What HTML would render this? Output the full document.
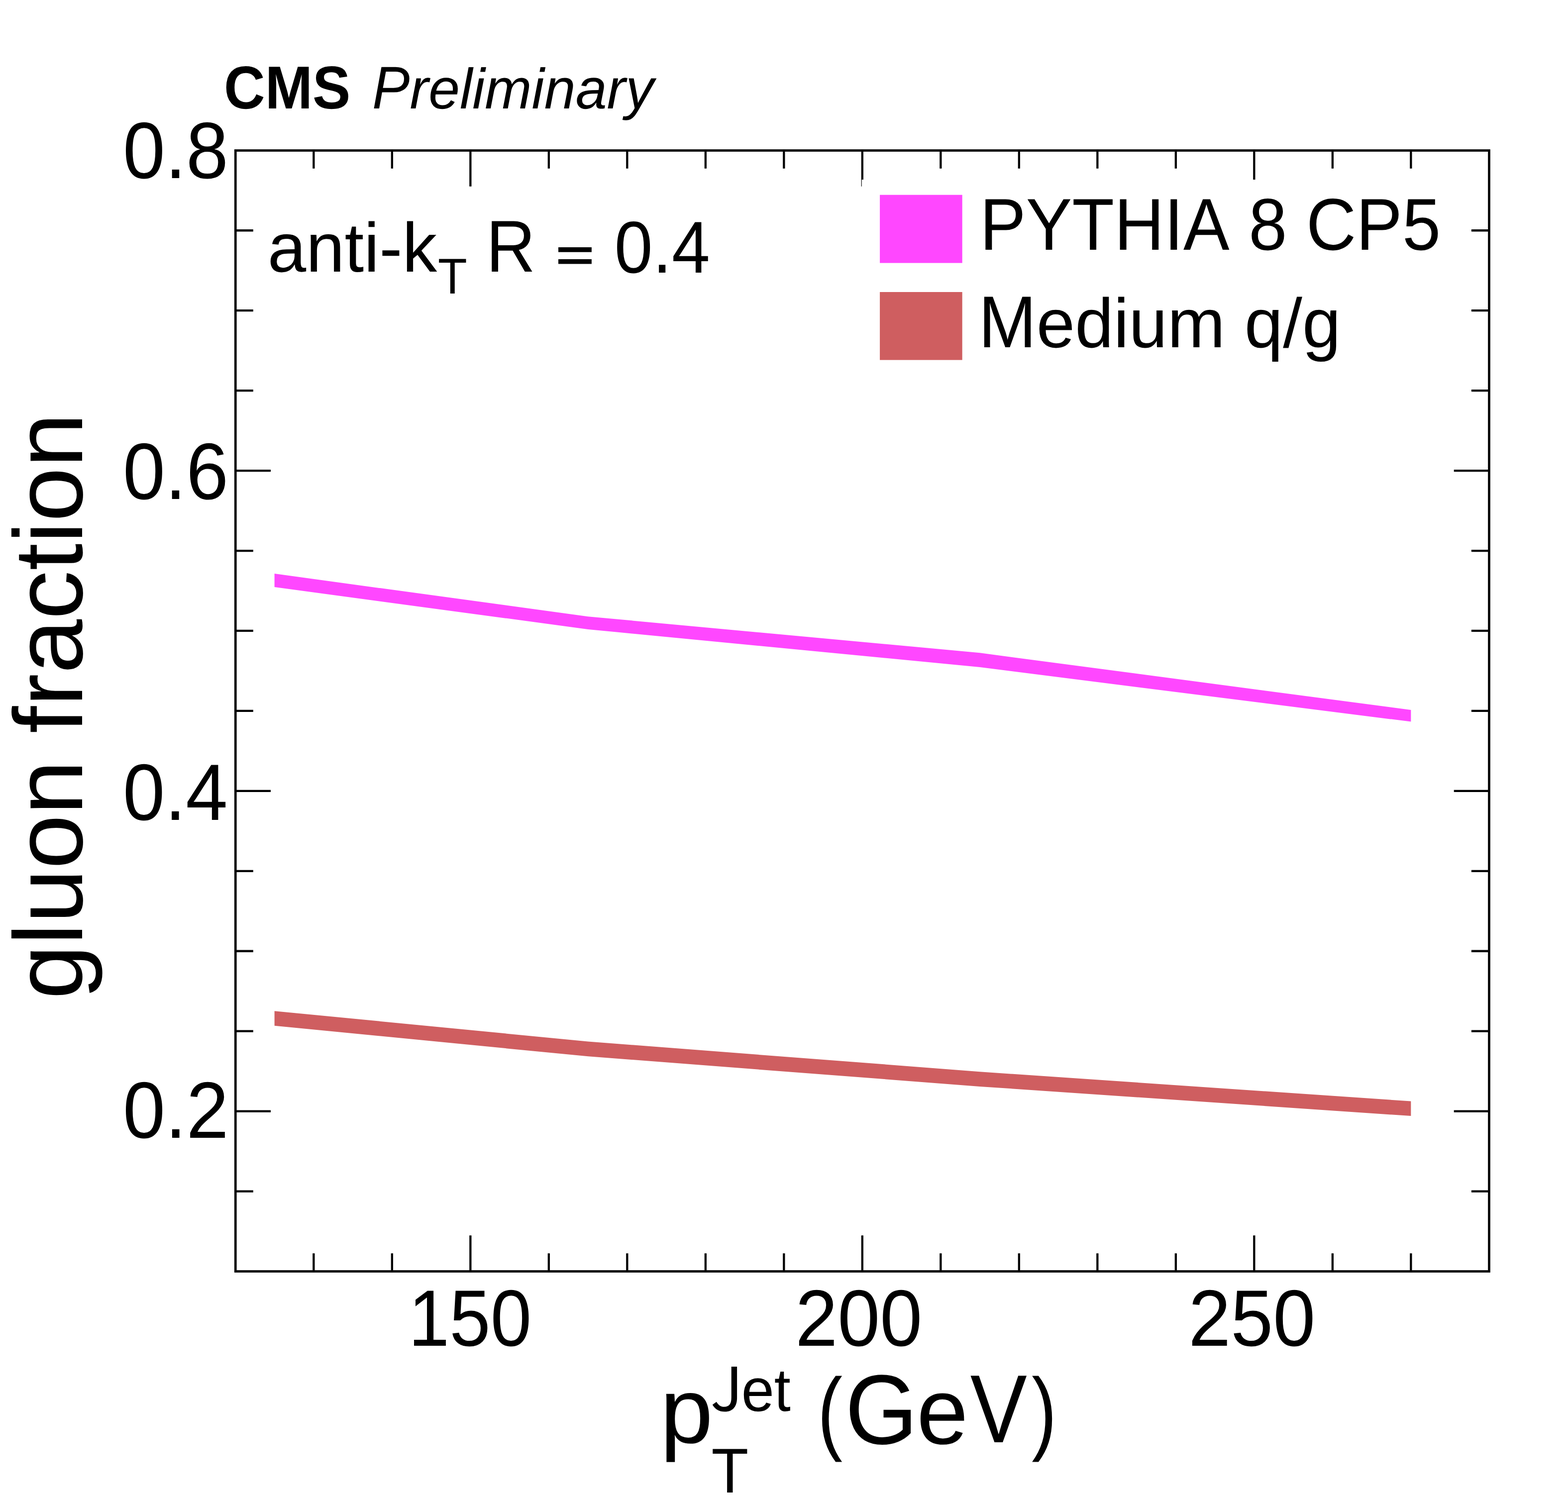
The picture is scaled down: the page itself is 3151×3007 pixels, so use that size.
<!DOCTYPE html>
<html lang="en"><head><meta charset="utf-8">
<style>
html,body{margin:0;padding:0;background:#fff;width:3151px;height:3007px}
svg{display:block}
text{font-family:"Liberation Sans",sans-serif;font-size:200px;fill:#000;font-kerning:none;text-rendering:geometricPrecision;white-space:pre}
</style></head>
<body>
<svg width="3151" height="3007" viewBox="0 0 3151 3007">
<rect width="3151" height="3007" fill="#fff"/>
<polygon points="551.60,1153.10 1181.60,1239.20 1969.10,1312.30 2835.35,1427.00 2835.35,1450.60 1969.10,1341.10 1181.60,1264.90 551.60,1180.10" fill="#FF47FF"/>
<polygon points="551.60,2032.20 1181.60,2093.50 1969.10,2154.20 2835.35,2213.50 2835.35,2243.10 1969.10,2183.90 1181.60,2123.30 551.60,2061.80" fill="#CF5E60"/>
<path d="M630.35 2555.50V2519.30M630.35 302.50V338.70M787.85 2555.50V2519.30M787.85 302.50V338.70M945.35 2555.50V2483.20M945.35 302.50V374.80M1102.85 2555.50V2519.30M1102.85 302.50V338.70M1260.35 2555.50V2519.30M1260.35 302.50V338.70M1417.85 2555.50V2519.30M1417.85 302.50V338.70M1575.35 2555.50V2519.30M1575.35 302.50V338.70M1732.85 2555.50V2483.20M1732.85 302.50V374.80M1890.35 2555.50V2519.30M1890.35 302.50V338.70M2047.85 2555.50V2519.30M2047.85 302.50V338.70M2205.35 2555.50V2519.30M2205.35 302.50V338.70M2362.85 2555.50V2519.30M2362.85 302.50V338.70M2520.35 2555.50V2483.20M2520.35 302.50V374.80M2677.85 2555.50V2519.30M2677.85 302.50V338.70M2835.35 2555.50V2519.30M2835.35 302.50V338.70M473.25 2394.59H508.85M2992.50 2394.59H2956.90M473.25 2233.64H544.00M2992.50 2233.64H2921.75M473.25 2072.70H508.85M2992.50 2072.70H2956.90M473.25 1911.75H508.85M2992.50 1911.75H2956.90M473.25 1750.81H508.85M2992.50 1750.81H2956.90M473.25 1589.86H544.00M2992.50 1589.86H2921.75M473.25 1428.92H508.85M2992.50 1428.92H2956.90M473.25 1267.97H508.85M2992.50 1267.97H2956.90M473.25 1107.03H508.85M2992.50 1107.03H2956.90M473.25 946.08H544.00M2992.50 946.08H2921.75M473.25 785.14H508.85M2992.50 785.14H2956.90M473.25 624.19H508.85M2992.50 624.19H2956.90M473.25 463.25H508.85M2992.50 463.25H2956.90" stroke="#000" stroke-width="4.3" fill="none"/>
<rect x="1731.8" y="361.1" width="1218" height="394" fill="#fff"/>
<rect x="473.25" y="302.5" width="2519.25" height="2253.0" fill="none" stroke="#000" stroke-width="4.7"/>
<rect x="1768.1" y="391.7" width="165.6" height="136.9" fill="#FF47FF"/>
<rect x="1768.1" y="587.0" width="165.6" height="136.6" fill="#CF5E60"/>
<text transform="matrix(0.57187 0 0 0.60948 450.11 217.50)" font-weight="bold">CMS</text>
<text transform="matrix(0.56568 0 0 0.57317 748.02 217.50)" font-style="italic"><tspan font-size="210.85" textLength="133.40" lengthAdjust="spacingAndGlyphs">P</tspan><tspan x="133.40">reliminary</tspan></text>
<text transform="matrix(0.76246 0 0 0.80366 246.94 358.13)">0.8</text>
<text transform="matrix(0.76274 0 0 0.80366 246.94 1003.43)">0.6</text>
<text transform="matrix(0.75769 0 0 0.80366 246.98 1648.33)">0.4</text>
<text transform="matrix(0.76492 0 0 0.80366 246.92 2287.23)">0.2</text>
<text transform="matrix(0.74104 0 0 0.80366 820.81 2705.23)">150</text>
<text transform="matrix(0.76436 0 0 0.80366 1598.21 2705.23)">200</text>
<text transform="matrix(0.76436 0 0 0.80366 2388.21 2705.23)">250</text>
<text transform="matrix(0 -0.98110 0.98003 0 165.06 2008.54)">gluon fraction</text>
<text transform="matrix(0.95618 0 0 0.93073 1326.57 2900.47)">p</text>
<text transform="matrix(0.59425 0 0 0.61128 1427.53 2836.10)"><tspan style="font-family:'Noto Sans CJK SC','Liberation Sans',sans-serif" font-size="198.46" textLength="109.86" lengthAdjust="spacingAndGlyphs">J</tspan><tspan x="104.54">et</tspan></text>
<text transform="matrix(0.61104 0 0 0.63713 1429.56 3000.00)">T</text>
<text><tspan x="1642.84" y="2899.50" font-size="185.48" textLength="50.24" lengthAdjust="spacingAndGlyphs">(</tspan><tspan x="1698.39" y="2901.56" font-size="198.59" textLength="145.60" lengthAdjust="spacingAndGlyphs">G</tspan><tspan x="1842.09" y="2901.56" font-size="188.74" textLength="103.59" lengthAdjust="spacingAndGlyphs">e</tspan><tspan x="1949.85" y="2899.00" font-size="194.33" textLength="114.10" lengthAdjust="spacingAndGlyphs">V</tspan><tspan x="2073.22" y="2899.50" font-size="185.48" textLength="50.24" lengthAdjust="spacingAndGlyphs">)</tspan></text>
<text transform="matrix(0.69625 0 0 0.70038 537.68 546.00)">anti-k</text>
<text transform="matrix(0.48017 0 0 0.50564 879.94 589.70)">T</text>
<text transform="matrix(0.68463 0 0 0.73836 977.07 546.00)">R <tspan x="203.75" dy="-4.12" font-weight="bold" font-size="119.69" textLength="113.80" lengthAdjust="spacingAndGlyphs">=</tspan> <tspan x="376.46" dy="6.78" font-size="199.71" textLength="280.35" lengthAdjust="spacingAndGlyphs">0.4</tspan></text>
<text transform="matrix(0.69428 0 0 0.73784 1969.11 502.20)">PYTHIA 8 CP5</text>
<text transform="matrix(0.69671 0 0 0.69988 1966.57 698.10)"><tspan font-size="210.85" textLength="166.60" lengthAdjust="spacingAndGlyphs">M</tspan><tspan x="166.60">edium q/g</tspan></text>
</svg>
</body></html>
